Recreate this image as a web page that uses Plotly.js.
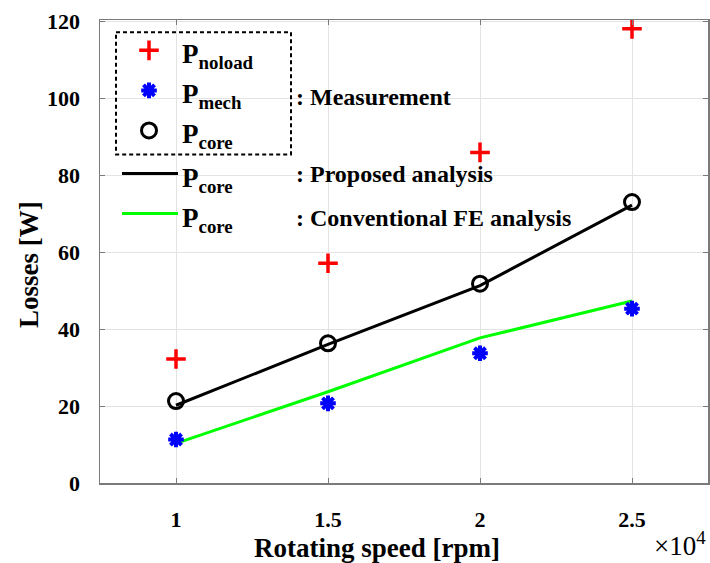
<!DOCTYPE html>
<html><head><meta charset="utf-8">
<script src="https://cdn.plot.ly/plotly-3.0.1.min.js"></script>
<style>html,body{margin:0;padding:0;background:#fff}#chart{width:710px;height:563px}</style>
</head><body><div id="chart"></div>
<script>
// Rotating speed in units of 1e4 rpm
const speed = [1, 1.5, 2, 2.5];
const pNoload = [32.2, 57.1, 85.9, 118.0];   // measured no-load losses [W]
const pMech = [11.3, 20.7, 33.7, 45.3];      // measured mechanical losses [W]
const pCoreMeas = [21.3, 36.3, 51.8, 73.0];  // measured core losses [W]
const pCoreProposed = [20.2, 36.0, 51.3, 72.2];     // proposed analysis
const pCoreConventional = [10.3, 23.7, 37.7, 47.3]; // conventional FE analysis
const xTickVals = [1, 1.5, 2, 2.5];
const xTickText = ['1', '1.5', '2', '2.5'];
const yTickVals = [0, 20, 40, 60, 80, 100, 120];

const FONT = 'Liberation Serif, Times New Roman, serif';

const mechMarker = {symbol: 'asterisk-open', size: 13, color: '#0000ff', line: {color: '#0000ff', width: 4}};
const noloadMarker = {symbol: 'cross-thin-open', size: 14, color: '#ff0000', line: {color: '#ff0000', width: 3.5}};
const coreMarker = {symbol: 'circle-open', size: 15, color: '#000000', line: {color: '#000000', width: 3}};

const traces = [
  {x: speed, y: pCoreProposed, mode: 'lines', line: {color: '#000000', width: 3}, hoverinfo: 'skip'},
  {x: speed, y: pCoreConventional, mode: 'lines', line: {color: '#00ff00', width: 3}, hoverinfo: 'skip'},
  {x: speed, y: pNoload, mode: 'markers', marker: noloadMarker},
  {x: speed, y: pMech, mode: 'markers', marker: mechMarker},
  {x: speed, y: pCoreMeas, mode: 'markers', marker: coreMarker},
  // legend glyphs (hidden overlay axes in pixel-like units)
  {x: [149], y: [51], xaxis: 'x2', yaxis: 'y2', mode: 'markers', marker: noloadMarker},
  {x: [149], y: [91], xaxis: 'x2', yaxis: 'y2', mode: 'markers', marker: mechMarker},
  {x: [149], y: [131], xaxis: 'x2', yaxis: 'y2', mode: 'markers', marker: coreMarker},
  {x: [122, 178], y: [174, 174], xaxis: 'x2', yaxis: 'y2', mode: 'lines', line: {color: '#000000', width: 3}},
  {x: [122, 178], y: [214, 214], xaxis: 'x2', yaxis: 'y2', mode: 'lines', line: {color: '#00ff00', width: 3}}
];

function pText(sub, x, y) {
  return {text: '<b>P<sub>' + sub + '</sub></b>', x: x, y: y, xref: 'x2', yref: 'y2', xanchor: 'left', yanchor: 'middle', showarrow: false, font: {family: FONT, size: 27, color: '#000'}};
}
function lText(t, x, y) {
  return {text: '<b>' + t + '</b>', x: x, y: y, xref: 'x2', yref: 'y2', xanchor: 'left', yanchor: 'middle', showarrow: false, font: {family: FONT, size: 24, color: '#000'}};
}

const layout = {
  width: 710, height: 563,
  margin: {l: 100, r: 2, t: 20, b: 80},
  paper_bgcolor: '#fff', plot_bgcolor: '#fff',
  showlegend: false,
  font: {family: FONT, color: '#000'},
  xaxis: {
    range: [0.75, 2.75], tickvals: xTickVals, ticktext: xTickText,
    showgrid: true, gridcolor: '#e3e3e3', gridwidth: 1, zeroline: false,
    showline: true, linecolor: '#7a7a7a', linewidth: 1.5, mirror: 'ticks',
    ticks: 'inside', ticklen: 5, tickcolor: '#7a7a7a',
    tickfont: {family: FONT, size: 22, color: '#000', weight: 'bold'},
    ticklabelstandoff: 16
  },
  yaxis: {
    range: [0, 120.3], tickvals: yTickVals,
    showgrid: true, gridcolor: '#e3e3e3', gridwidth: 1, zeroline: false,
    showline: true, linecolor: '#7a7a7a', linewidth: 1.5, mirror: 'ticks',
    ticks: 'inside', ticklen: 5, tickcolor: '#7a7a7a',
    tickfont: {family: FONT, size: 22, color: '#000', weight: 'bold'},
    ticklabelstandoff: 14
  },
  xaxis2: {overlaying: 'x', range: [100, 708], visible: false, fixedrange: true},
  yaxis2: {overlaying: 'y', range: [483, 20.7], visible: false, fixedrange: true},
  shapes: [
    {type: 'rect', xref: 'x2', yref: 'y2', x0: 116, x1: 291, y0: 33, y1: 155, line: {color: '#000', width: 2, dash: '4px,3px'}, fillcolor: 'rgba(0,0,0,0)'}
  ],
  annotations: [
    pText('noload', 180, 57),
    pText('mech', 180, 97),
    pText('core', 180, 137),
    pText('core', 180, 180),
    pText('core', 180, 220),
    lText(': Measurement', 294, 98),
    lText(': Proposed analysis', 294, 174),
    lText(': Conventional FE analysis', 294, 218),
    {text: '<b>Losses [W]</b>', xref: 'paper', yref: 'paper', x: -0.118, y: 0.4716, xanchor: 'center', yanchor: 'middle', textangle: -90, showarrow: false, font: {family: FONT, size: 27, color: '#000'}},
    {text: '<b>Rotating speed [rpm]</b>', xref: 'paper', yref: 'paper', x: 0.4556, y: -0.1406, xanchor: 'center', yanchor: 'middle', showarrow: false, font: {family: FONT, size: 27, color: '#000'}},
    {text: '×10<sup>4</sup>', xref: 'paper', yref: 'paper', x: 1.0, y: -0.173, xanchor: 'right', yanchor: 'bottom', showarrow: false, font: {family: FONT, size: 27, color: '#000'}}
  ]
};

Plotly.newPlot('chart', traces, layout, {staticPlot: true, displayModeBar: false});
</script></body></html>
